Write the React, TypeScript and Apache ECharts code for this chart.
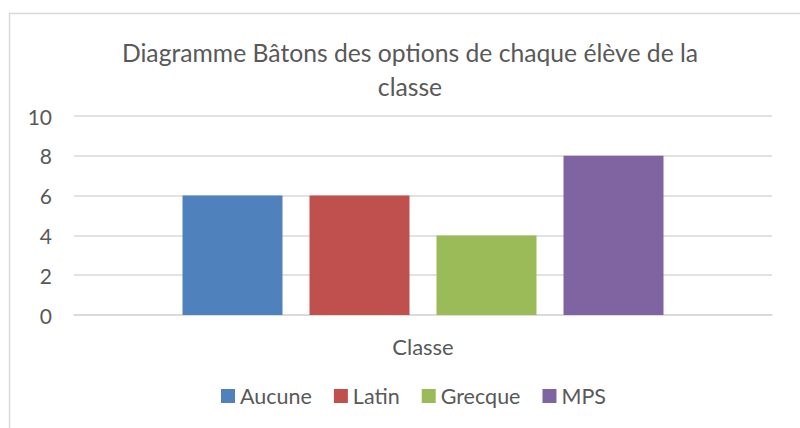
import React, { useEffect, useRef } from "react";
import * as echarts from "echarts";

const categories = ["Classe"];
const seriesNames = ["Aucune", "Latin", "Grecque", "MPS"];
const seriesValues = [[6], [6], [4], [8]];
const seriesColors = ["#4F81BD", "#C0504D", "#9BBB59", "#8064A2"];
const titleText = "Diagramme Bâtons des options de chaque élève de la\nclasse";

export default function App() {
  const ref = useRef<HTMLDivElement>(null);
  useEffect(() => {
    document.body.style.margin = "0";
    const chart = echarts.init(ref.current!, null, { renderer: "svg" });
    const font = "Lato, 'Noto Sans', sans-serif";
    chart.setOption({
      animation: false,
      backgroundColor: "#ffffff",
      graphic: [
        {
          type: "rect",
          shape: { x: 9.5, y: 13.5, width: 820, height: 440 },
          style: { fill: "none", stroke: "#D9D9D9", lineWidth: 1.5 },
          silent: true,
        },
      ],
      title: {
        text: titleText,
        left: 410,
        textAlign: "center",
        top: 35,
        padding: 0,
        textStyle: {
          fontFamily: font,
          fontSize: 24.7,
          fontWeight: "normal",
          color: "#595959",
          lineHeight: 34,
        },
      },
      legend: {
        data: seriesNames,
        bottom: 21,
        left: 221,
        padding: 0,
        itemWidth: 14,
        itemHeight: 14,
        itemGap: 22,
        icon: "rect",
        textStyle: { fontFamily: font, fontSize: 21.5, color: "#595959", padding: [0, 0, 0, 0] },
      },
      grid: { left: 74, right: 28, top: 116, bottom: 113 },
      xAxis: {
        type: "category",
        data: categories,
        axisLine: { lineStyle: { color: "#D9D9D9", width: 1.5 } },
        axisTick: { show: false },
        axisLabel: { fontFamily: font, fontSize: 22, color: "#595959", margin: 20 },
      },
      yAxis: {
        type: "value",
        min: 0,
        max: 10,
        interval: 2,
        axisLine: { show: false },
        axisTick: { show: false },
        splitLine: { lineStyle: { color: "#D9D9D9", width: 1.5 } },
        axisLabel: { fontFamily: font, fontSize: 21, color: "#595959", margin: 22 },
      },
      series: seriesNames.map((name, i) => ({
        name,
        type: "bar",
        data: seriesValues[i],
        barWidth: 100,
        barGap: "27%",
        itemStyle: { color: seriesColors[i] },
      })),
    });
    return () => chart.dispose();
  }, []);
  return <div ref={ref} style={{ width: 800, height: 428, position: "fixed", left: 0, top: 0 }} />;
}
